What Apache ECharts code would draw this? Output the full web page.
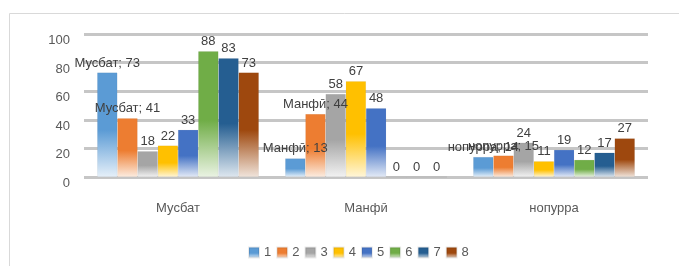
<!DOCTYPE html>
<html><head><meta charset="utf-8">
<script src="https://cdn.jsdelivr.net/npm/echarts@6/dist/echarts.min.js"></script>
<style>html,body{margin:0;padding:0;background:#fff}#c{width:679px;height:266px}</style>
</head><body><div id="c"></div>
<script>
const categories = ['Мусбат', 'Манфӣ', 'нопурра'];
const seriesNames = ['1', '2', '3', '4', '5', '6', '7', '8'];
const s1 = [73, 13, 14];
const s2 = [41, 44, 15];
const s3 = [18, 58, 24];
const s4 = [22, 67, 11];
const s5 = [33, 48, 19];
const s6 = [88, 0, 12];
const s7 = [83, 0, 17];
const s8 = [73, 0, 27];
const yTicks = [0, 20, 40, 60, 80, 100];
const colors = ['#5b9bd5', '#ed7d31', '#a5a5a5', '#ffc000', '#4472c4', '#70ad47', '#255e91', '#9e480e'];
const allData = [s1, s2, s3, s4, s5, s6, s7, s8];

function lighten(hex, t) {
  const n = parseInt(hex.slice(1), 16);
  let r = (n >> 16) & 255, g = (n >> 8) & 255, b = n & 255;
  r = Math.round(r + (255 - r) * t); g = Math.round(g + (255 - g) * t); b = Math.round(b + (255 - b) * t);
  return 'rgb(' + r + ',' + g + ',' + b + ')';
}

const chart = echarts.init(document.getElementById('c'));
const series = allData.map((d, i) => ({
  name: seriesNames[i],
  type: 'bar',
  data: d,
  barGap: '0%',
  barCategoryGap: '14%',
  itemStyle: {
    color: {
      type: 'linear', x: 0, y: 0, x2: 0, y2: 1,
      colorStops: [
        { offset: 0, color: colors[i] },
        { offset: 0.55, color: colors[i] },
        { offset: 1, color: lighten(colors[i], 0.85) }
      ]
    },
    borderColor: 'rgba(0,0,0,0.08)',
    borderWidth: 0.5
  },
  label: {
    show: true,
    position: 'top',
    distance: 3,
    color: '#404040',
    fontSize: 13,
    fontFamily: 'Liberation Sans',
    formatter: i < 2 ? (p => p.name + '; ' + p.value) : (p => String(p.value))
  }
}));

chart.setOption({
  animation: false,
  color: colors,
  graphic: [{
    type: 'rect', left: 7, top: 11, silent: true,
    shape: { width: 700, height: 300 },
    style: { fill: 'none', stroke: '#d9d9d9', lineWidth: 1 }
  }],
  grid: { left: 84, right: 31, top: 34, bottom: 89 },
  legend: {
    data: seriesNames,
    left: 243, top: 241,
    itemWidth: 10, itemHeight: 10, itemGap: 5,
    icon: 'rect',
    textStyle: { color: '#595959', fontSize: 13, fontFamily: 'Liberation Sans' }
  },
  xAxis: {
    type: 'category',
    data: categories,
    axisLine: { show: false },
    axisTick: { show: false },
    axisLabel: { color: '#595959', fontSize: 13, fontFamily: 'Liberation Sans', margin: 25 }
  },
  yAxis: {
    type: 'value',
    min: yTicks[0], max: yTicks[yTicks.length - 1], interval: 20,
    axisLine: { show: false },
    axisTick: { show: false },
    axisLabel: { color: '#595959', fontSize: 13, fontFamily: 'Liberation Sans', margin: 14, verticalAlign: 'top' },
    splitLine: { lineStyle: { color: '#c6c6c6', width: 3 } }
  },
  series: series
});
</script></body></html>
